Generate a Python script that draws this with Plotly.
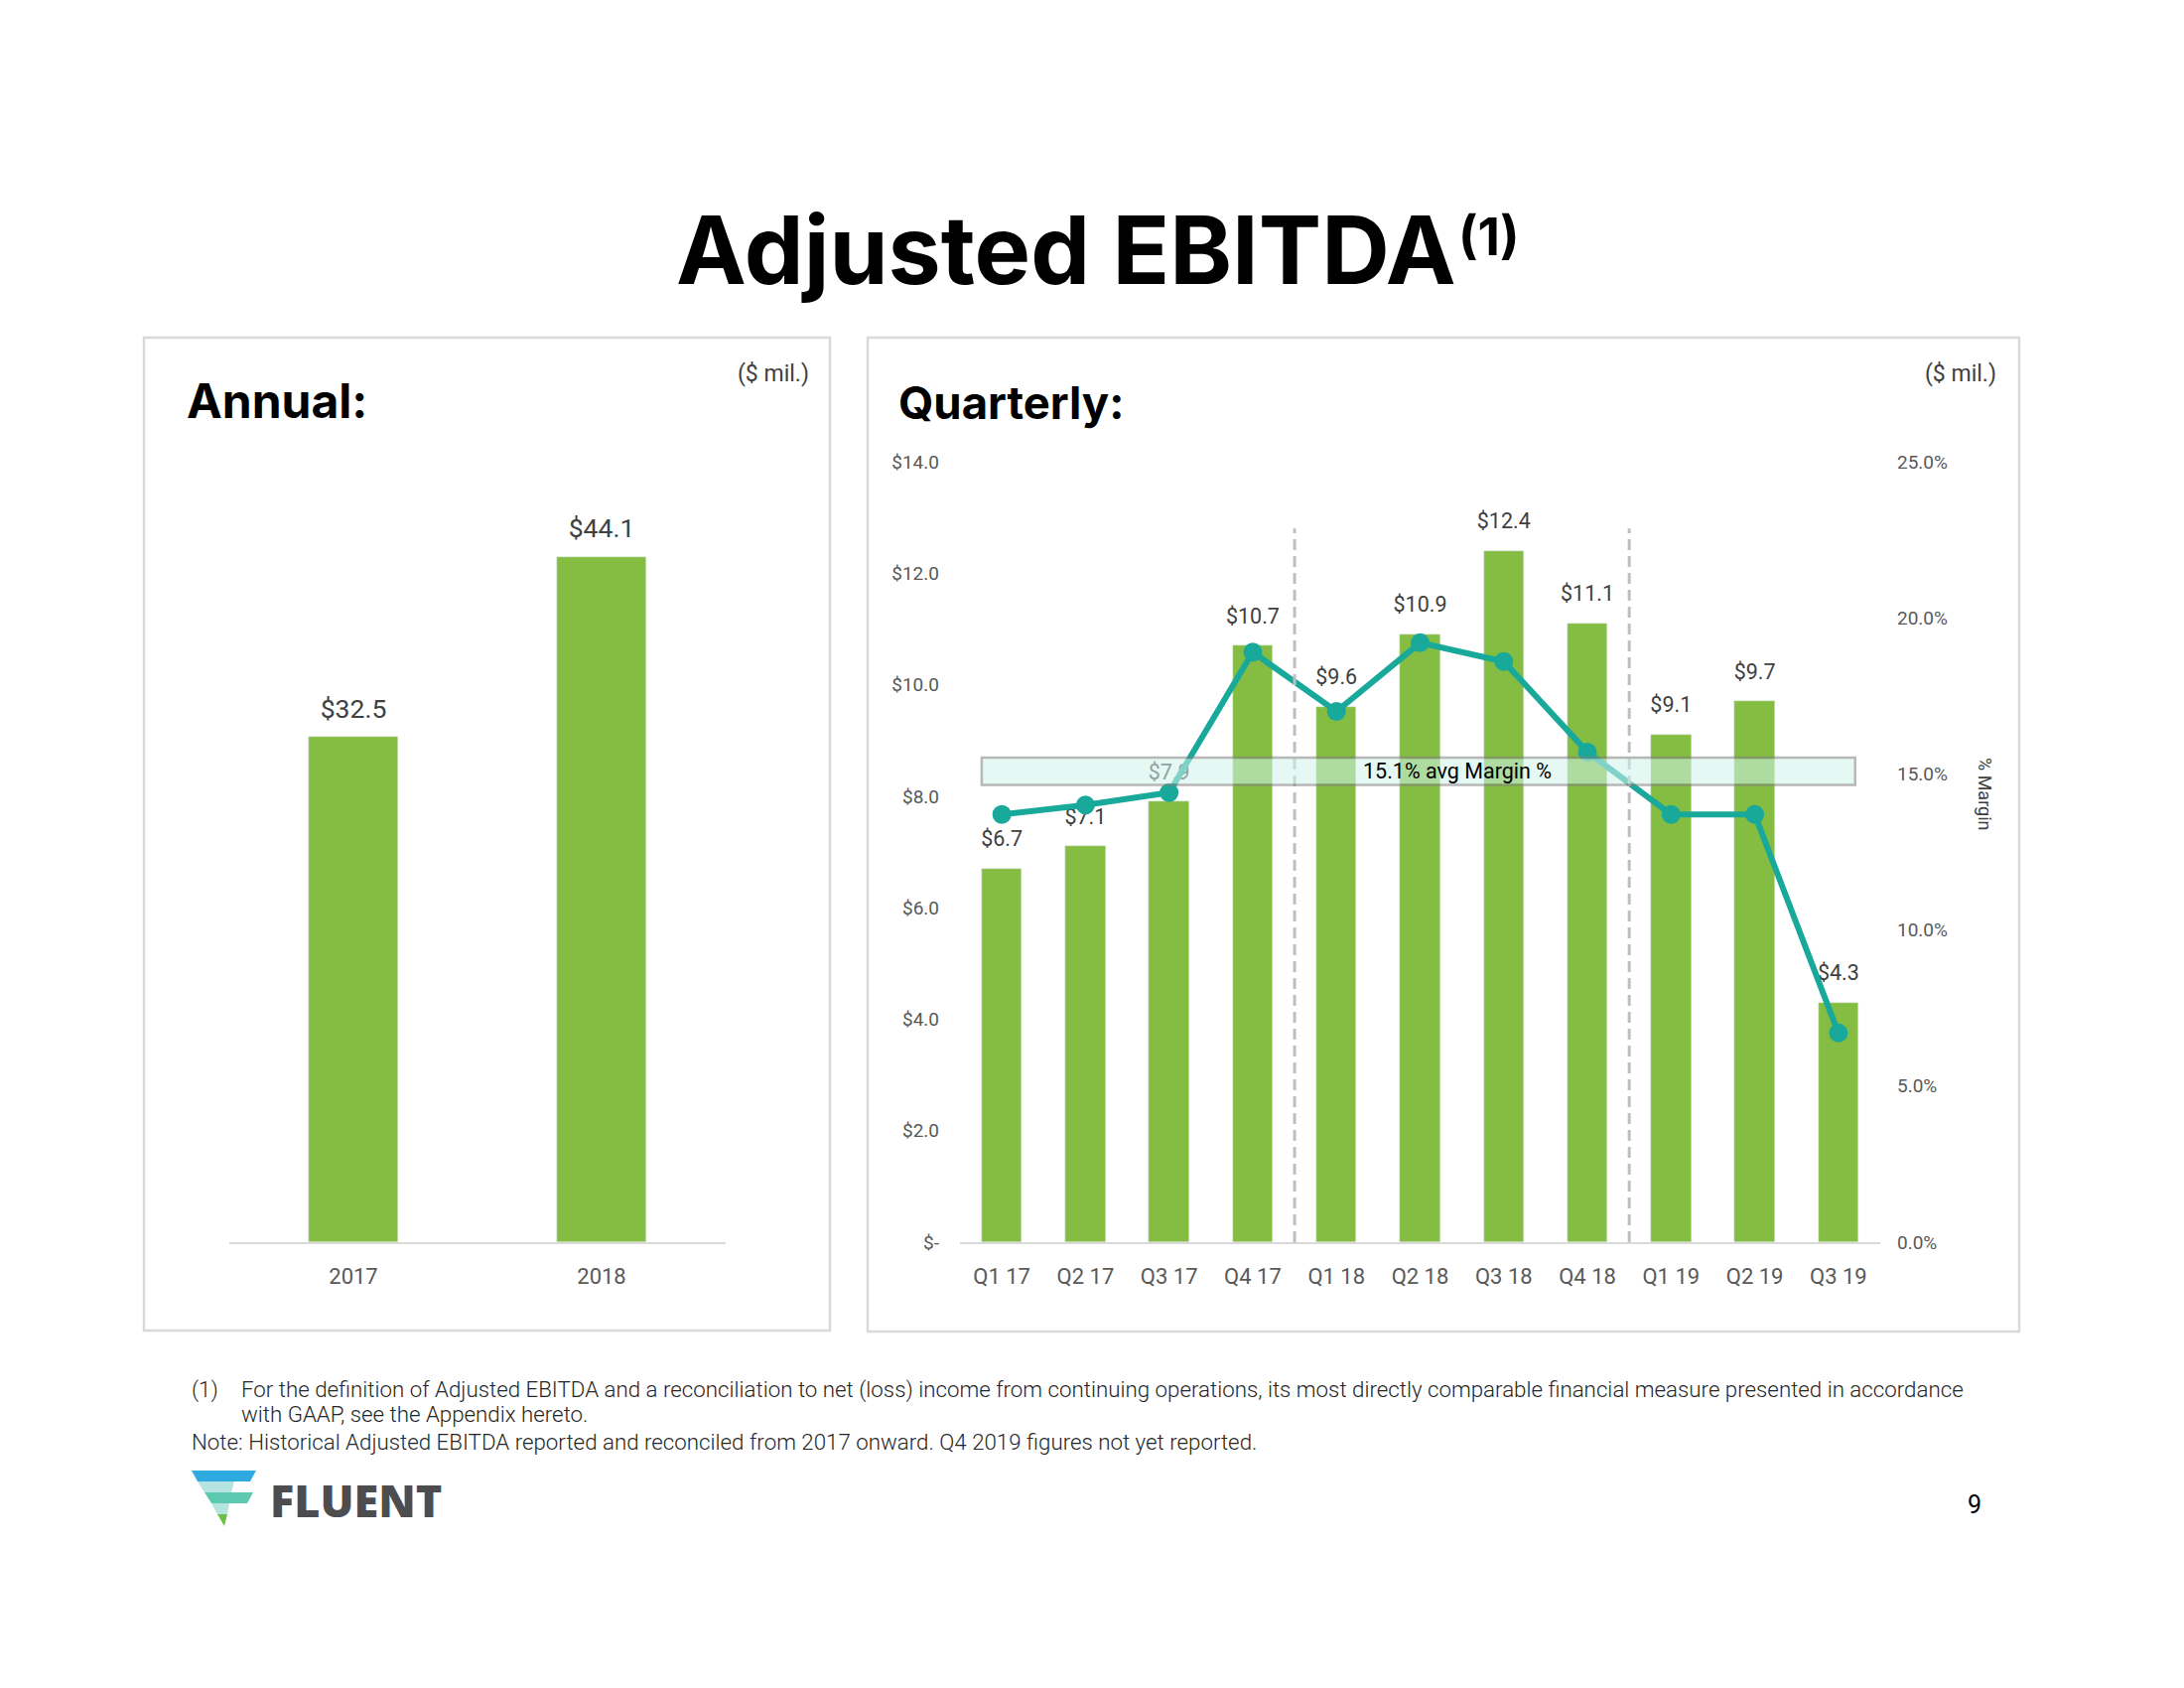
import plotly.graph_objects as go

# ---------------- data ----------------
annual_years = ["2017", "2018"]
annual_ebitda = [32.5, 44.1]

quarters = ["Q1 17", "Q2 17", "Q3 17", "Q4 17", "Q1 18", "Q2 18",
            "Q3 18", "Q4 18", "Q1 19", "Q2 19", "Q3 19"]
quarterly_ebitda = [6.7, 7.1, 7.9, 10.7, 9.6, 10.9, 12.4, 11.1, 9.1, 9.7, 4.3]
quarterly_margin = [13.7, 14.0, 14.4, 18.9, 17.0, 19.2, 18.6, 15.7, 13.7, 13.7, 6.7]

avg_margin = 15.1
avg_label = "15.1% avg Margin %"

left_tickvals = [0, 2, 4, 6, 8, 10, 12, 14]
left_ticktext = ["$-", "$2.0", "$4.0", "$6.0", "$8.0", "$10.0", "$12.0", "$14.0"]
right_tickvals = [0, 5, 10, 15, 20, 25]
right_ticktext = ["0.0%", "5.0%", "10.0%", "15.0%", "20.0%", "25.0%"]

# ---------------- style ----------------
W, H = 2200, 1700
GREEN = "#84BD41"
TEAL = "#19A99B"
GRAY_TXT = "#595959"
LABEL_TXT = "#404040"
BOX = "#D9D9D9"
CHART_FONT = "Roboto, 'Open Sans', sans-serif"
HEAD_FONT = "Inter, 'Open Sans', sans-serif"


def px(x):
    return x / W


def py(y):
    return 1 - y / H


fig = go.Figure()

# Annual bars
fig.add_trace(go.Bar(
    x=annual_years, y=annual_ebitda, marker_color=GREEN, width=0.36,
    xaxis="x", yaxis="y", showlegend=False, hoverinfo="skip"))
fig.add_trace(go.Scatter(
    x=annual_years, y=annual_ebitda, mode="markers+text",
    text=[f"${v:.1f}" for v in annual_ebitda], textposition="top center",
    textfont=dict(family=CHART_FONT, size=26.5, color=LABEL_TXT),
    marker=dict(size=19, color="rgba(0,0,0,0)"),
    xaxis="x", yaxis="y", showlegend=False, hoverinfo="skip"))

# Quarterly bars
fig.add_trace(go.Bar(
    x=quarters, y=quarterly_ebitda, marker_color=GREEN, width=0.48,
    xaxis="x2", yaxis="y2", showlegend=False, hoverinfo="skip"))
fig.add_trace(go.Scatter(
    x=quarters, y=quarterly_ebitda, mode="markers+text",
    text=[f"${v:.1f}" for v in quarterly_ebitda], textposition="top center",
    textfont=dict(family=CHART_FONT, size=21.5, color=LABEL_TXT),
    marker=dict(size=26, color="rgba(0,0,0,0)"),
    xaxis="x2", yaxis="y2", showlegend=False, hoverinfo="skip"))

# Margin line
fig.add_trace(go.Scatter(
    x=quarters, y=quarterly_margin, mode="lines+markers",
    line=dict(color=TEAL, width=6),
    marker=dict(size=19, color=TEAL),
    xaxis="x2", yaxis="y3", showlegend=False, hoverinfo="skip"))

y_dom = [py(1251), py(465)]

fig.update_layout(
    width=W, height=H,
    margin=dict(l=0, r=0, t=0, b=0, pad=0),
    paper_bgcolor="white", plot_bgcolor="rgba(0,0,0,0)",
    bargap=0,
    xaxis=dict(domain=[px(231), px(731)], range=[-0.5, 1.5], type="category",
               showline=True, linecolor=BOX, linewidth=2, showgrid=False,
               ticks="", ticklabelstandoff=14, automargin=False,
               tickfont=dict(family=CHART_FONT, size=22, color=GRAY_TXT),
               fixedrange=True),
    yaxis=dict(domain=y_dom, range=[0, 50.2], visible=False, automargin=False,
               fixedrange=True),
    xaxis2=dict(domain=[px(967), px(1894)], range=[-0.5, 10.5], type="category",
                anchor="y2", automargin=False,
                showline=True, linecolor=BOX, linewidth=2, showgrid=False,
                ticks="", ticklabelstandoff=14,
                tickfont=dict(family=CHART_FONT, size=22, color=GRAY_TXT),
                fixedrange=True),
    yaxis2=dict(domain=y_dom, range=[0, 14], anchor="x2", automargin=False,
                tickvals=left_tickvals, ticktext=left_ticktext,
                showgrid=False, zeroline=False, showline=False, ticks="",
                ticklabelstandoff=20,
                tickfont=dict(family=CHART_FONT, size=19, color=GRAY_TXT),
                fixedrange=True),
    yaxis3=dict(domain=y_dom, range=[0, 25], overlaying="y2", side="right",
                anchor="x2", automargin=False,
                tickvals=right_tickvals, ticktext=right_ticktext,
                showgrid=False, zeroline=False, showline=False, ticks="",
                ticklabelstandoff=16,
                tickfont=dict(family=CHART_FONT, size=19, color=GRAY_TXT),
                fixedrange=True),
)

shapes = []
# Panel boxes
shapes.append(dict(type="rect", xref="paper", yref="paper",
                   x0=px(145), x1=px(836), y0=py(1340), y1=py(340),
                   line=dict(color=BOX, width=2.5), fillcolor="rgba(0,0,0,0)",
                   layer="below"))
shapes.append(dict(type="rect", xref="paper", yref="paper",
                   x0=px(874), x1=px(2034), y0=py(1341), y1=py(340),
                   line=dict(color=BOX, width=2.5), fillcolor="rgba(0,0,0,0)",
                   layer="below"))
# Year separators (dashed)
for sep in [3.5, 7.5]:
    shapes.append(dict(type="line", xref="x2", yref="y2",
                       x0=sep, x1=sep, y0=0, y1=12.8,
                       line=dict(color="#BFBFBF", width=3, dash="11px,6px"),
                       layer="above"))
# Avg margin band
shapes.append(dict(type="rect", xref="x2", yref="y3",
                   x0=-0.24, x1=10.2, y0=avg_margin - 0.45, y1=avg_margin + 0.42,
                   fillcolor="rgb(209,244,236)", opacity=0.55,
                   line=dict(color="#7F7F7F", width=2.5), layer="above"))

# Logo icon
logo = [
    ("M193,1481 L258,1481 L252,1492 L199,1492 Z", "#2FAAE1"),
    ("M199,1492 L236,1492 L233,1503 L206,1503 Z", "#B5E3DF"),
    ("M206,1503 L255,1503 L249,1514 L213,1514 Z", "#5CC9B0"),
    ("M213,1514 L231,1514 L229,1525 L219,1525 Z", "#B5E3DF"),
    ("M219,1525 L229,1525 L226,1537 Z", "#6CC04A"),
]


def conv_path(p):
    out = []
    for tok in p.split(" "):
        if tok == "Z":
            out.append("Z")
            continue
        cmd = tok[0]
        xs, ys = tok[1:].split(",")
        out.append(f"{cmd}{px(float(xs)):.5f},{py(float(ys)):.5f}")
    return " ".join(out)


for p, c in logo:
    shapes.append(dict(type="path", xref="paper", yref="paper", path=conv_path(p),
                       fillcolor=c, line=dict(width=0), layer="above"))

fig.update_layout(shapes=shapes)

ann = []
ann.append(dict(text="Adjusted EBITDA", x=px(1469), y=py(252),
                xref="paper", yref="paper", showarrow=False,
                xanchor="right", yanchor="middle",
                font=dict(family=HEAD_FONT, size=95, color="black", weight=700)))
ann.append(dict(text="(1)", x=px(1467), y=py(238),
                xref="paper", yref="paper", showarrow=False,
                xanchor="left", yanchor="middle",
                font=dict(family=HEAD_FONT, size=52, color="black", weight=700)))
ann.append(dict(text="Annual:", x=px(186), y=py(403), xref="paper", yref="paper",
                showarrow=False, xanchor="left", yanchor="middle",
                font=dict(family=HEAD_FONT, size=48, color="black", weight=700)))
ann.append(dict(text="Quarterly:", x=px(903), y=py(406), xref="paper", yref="paper",
                showarrow=False, xanchor="left", yanchor="middle",
                font=dict(family=HEAD_FONT, size=45.5, color="black", weight=700)))
for xr in [817, 2013]:
    ann.append(dict(text="($ mil.)", x=px(xr), y=py(376), xref="paper", yref="paper",
                    showarrow=False, xanchor="right", yanchor="middle",
                    font=dict(family=CHART_FONT, size=23, color=LABEL_TXT)))
ann.append(dict(text="% Margin", x=px(2000), y=py(800), xref="paper", yref="paper",
                showarrow=False, textangle=90, xanchor="center", yanchor="middle",
                font=dict(family=CHART_FONT, size=18, color=LABEL_TXT)))
ann.append(dict(text=avg_label, x=5.45, y=avg_margin, xref="x2", yref="y3",
                showarrow=False, xanchor="center", yanchor="middle",
                font=dict(family=CHART_FONT, size=21.5, color="black", weight=400)))

FOOT = dict(family=CHART_FONT, size=22.3, color="#262626", weight=300)
ann.append(dict(text="(1)", x=px(191), y=py(1399), xref="paper", yref="paper",
                showarrow=False, xanchor="left", yanchor="middle", font=FOOT))
ann.append(dict(text="For the definition of Adjusted EBITDA and a reconciliation to net (loss) income from continuing operations, its most directly comparable financial measure presented in accordance",
                x=px(241), y=py(1399), xref="paper", yref="paper",
                showarrow=False, xanchor="left", yanchor="middle", font=FOOT))
ann.append(dict(text="with GAAP, see the Appendix hereto.",
                x=px(241), y=py(1424), xref="paper", yref="paper",
                showarrow=False, xanchor="left", yanchor="middle", font=FOOT))
ann.append(dict(text="Note: Historical Adjusted EBITDA reported and reconciled from 2017 onward. Q4 2019 figures not yet reported.",
                x=px(191), y=py(1452), xref="paper", yref="paper",
                showarrow=False, xanchor="left", yanchor="middle", font=FOOT))
ann.append(dict(text="FLUENT", x=px(270), y=py(1510), xref="paper", yref="paper",
                showarrow=False, xanchor="left", yanchor="middle",
                font=dict(family="'Open Sans', sans-serif", size=45, color="#4D4D4F", weight=800)))
ann.append(dict(text="9", x=px(1989), y=py(1515), xref="paper", yref="paper",
                showarrow=False, xanchor="center", yanchor="middle",
                font=dict(family=CHART_FONT, size=25, color="black")))

fig.update_layout(annotations=ann)

fig.write_html("out.html", config={"displayModeBar": False},
               post_script="document.body.style.margin='0';")
